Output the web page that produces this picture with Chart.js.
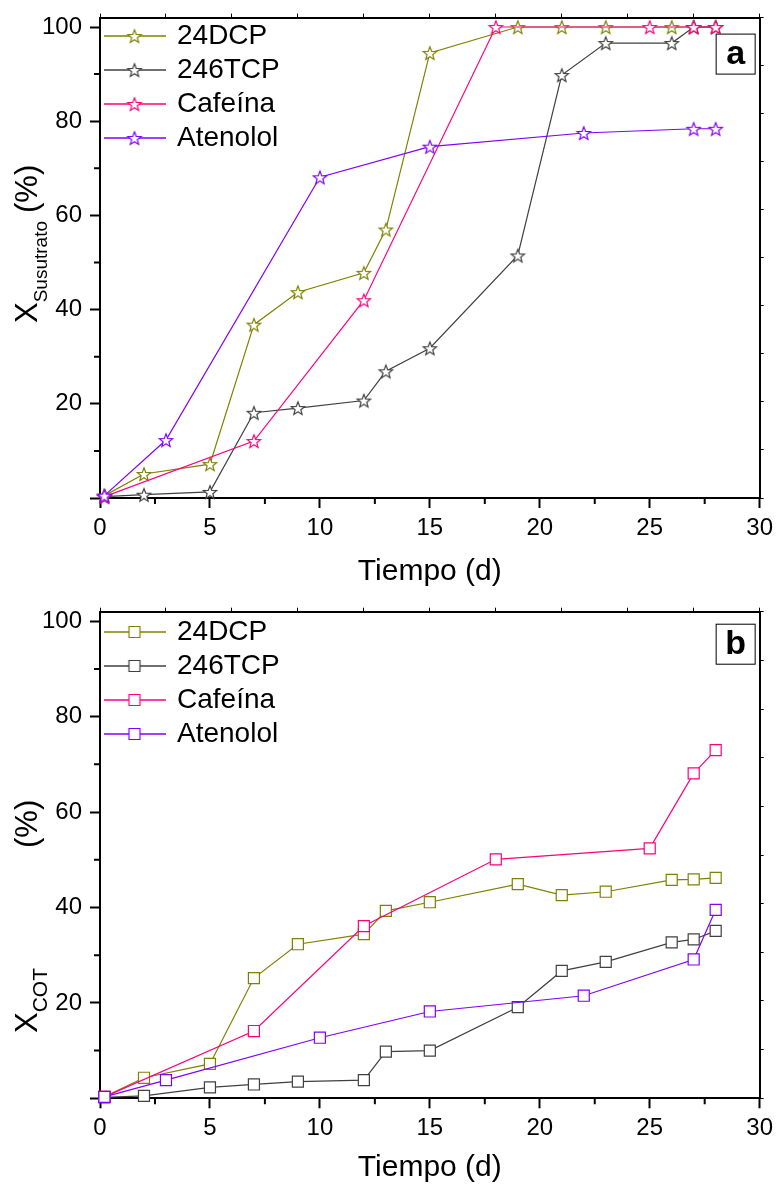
<!DOCTYPE html>
<html>
<head>
<meta charset="utf-8">
<script src="https://cdn.jsdelivr.net/npm/chart.js@4.4.1/dist/chart.umd.min.js"></script>
<style>
  body { margin: 0; background: #fff; }
  canvas { position: absolute; left: 0; }
</style>
</head>
<body>
<canvas id="chartA" width="779" height="590" style="top:0"></canvas>
<canvas id="chartB" width="779" height="596" style="top:590px"></canvas>
<script>
const seriesNames = ['24DCP', '246TCP', 'Cafeína', 'Atenolol'];
const seriesColors = ['#808000', '#404040', '#ff0080', '#8000ff'];

// (a) conversion of substrate, %
const dias24DCP = [0.2, 2, 5, 7, 9, 12, 13, 15, 19, 21, 23, 26, 27, 28];
const dias246TCP = [0.2, 2, 5, 7, 9, 12, 13, 15, 19, 21, 23, 26, 27, 28];
const diasCafeina = [0.2, 7, 12, 18, 25, 27, 28];
const diasAtenolol = [0.2, 3, 10, 15, 22, 27, 28];

const sust24DCP = [0.5, 5.1, 7.2, 36.8, 43.7, 47.8, 57.0, 94.5, 100, 100, 100, 100, 100, 100];
const sust246TCP = [0.3, 0.7, 1.3, 18.1, 19.1, 20.7, 26.9, 31.8, 51.5, 89.8, 96.6, 96.6, 100, 100];
const sustCafeina = [0.3, 12.1, 42.0, 100, 100, 100, 100];
const sustAtenolol = [0.5, 12.3, 68.1, 74.6, 77.5, 78.4, 78.4];

// (b) TOC removal, %
const cot24DCP = [0.3, 4.3, 7.2, 25.2, 32.3, 34.4, 39.3, 41.1, 44.9, 42.6, 43.3, 45.8, 45.9, 46.2];
const cot246TCP = [0.2, 0.5, 2.3, 2.9, 3.5, 3.8, 9.8, 10.0, 19.1, 26.7, 28.6, 32.7, 33.3, 35.1];
const cotCafeina = [0.3, 14.1, 36.1, 50.1, 52.4, 68.1, 73.0];
const cotAtenolol = [0.3, 3.8, 12.7, 18.2, 21.5, 29.1, 39.5];

const xTicks = [0, 5, 10, 15, 20, 25, 30];
const yTickLabels = [20, 40, 60, 80, 100];

const FONT = 'Arial, "Liberation Sans", sans-serif';
Chart.defaults.font.family = FONT;
Chart.defaults.color = '#000';

function makeIcon(shape, color, lineLen) {
  const w = lineLen || 18, h = 18;
  const c = document.createElement('canvas');
  c.width = w; c.height = h;
  const g = c.getContext('2d');
  const cx = w / 2, cy = h / 2;
  if (lineLen) {
    g.strokeStyle = color; g.lineWidth = 1.6;
    g.beginPath(); g.moveTo(0, cy); g.lineTo(w, cy); g.stroke();
  }
  g.beginPath();
  if (shape === 'star') {
    const r = 7, ri = 3;
    for (let i = 0; i < 10; i++) {
      const a = -Math.PI / 2 + i * Math.PI / 5;
      const rr = i % 2 ? ri : r;
      g.lineTo(cx + rr * Math.cos(a), cy + 0.8 + rr * Math.sin(a));
    }
    g.closePath();
  } else {
    g.rect(cx - 5.5, cy - 5.5, 11, 11);
  }
  g.fillStyle = '#fff'; g.fill();
  g.strokeStyle = color; g.lineWidth = 1.2; g.stroke();
  return c;
}

function buildDatasets(daysList, valuesList, shape) {
  return seriesNames.map((name, i) => ({
    label: name,
    data: daysList[i].map((d, k) => ({x: d, y: valuesList[i][k]})),
    borderColor: seriesColors[i],
    backgroundColor: '#fff',
    borderWidth: 1.2,
    tension: 0,
    pointStyle: shape === 'star' ? makeIcon('star', seriesColors[i]) : 'rect',
    pointRadius: 7.8,
    pointBorderWidth: 1.2,
    pointBackgroundColor: '#fff',
    pointBorderColor: seriesColors[i],
    order: seriesNames.length - i,
    clip: false
  }));
}

const minorTicks = {
  id: 'minorTicks',
  afterDraw(chart) {
    const {ctx, scales: {x, y}} = chart;
    ctx.save();
    ctx.strokeStyle = '#000';
    ctx.lineWidth = 2;
    ctx.beginPath();
    for (let v = 2.5; v < 30; v += 5) {
      const px = x.getPixelForValue(v);
      ctx.moveTo(px, x.top); ctx.lineTo(px, x.top + 6);
    }
    for (let v = 10; v < 100; v += 20) {
      const py = y.getPixelForValue(v);
      ctx.moveTo(y.right, py); ctx.lineTo(y.right - 6, py);
    }
    ctx.stroke();
    ctx.restore();
  }
};

const panelDecor = {
  id: 'panelDecor',
  afterDraw(chart, args, opts) {
    const {ctx, chartArea} = chart;
    ctx.save();
    // panel letter
    const bx = chartArea.right - 44, by = chartArea.top + opts.boxTop;
    ctx.fillStyle = '#fff';
    ctx.fillRect(bx, by, 39, 40);
    ctx.strokeStyle = '#000'; ctx.lineWidth = 1;
    ctx.strokeRect(bx + 0.5, by + 0.5, 39, 40);
    ctx.fillStyle = '#000';
    ctx.font = 'bold 34px ' + FONT;
    ctx.textAlign = 'center'; ctx.textBaseline = 'middle';
    ctx.fillText(opts.letter, bx + 20, by + 21);
    // y title with subscript
    ctx.translate(opts.titleX, opts.titleY);
    ctx.rotate(-Math.PI / 2);
    ctx.textAlign = 'left'; ctx.textBaseline = 'alphabetic';
    let pos = 0;
    ctx.font = '31px ' + FONT;
    ctx.fillText('X', pos, 0);
    pos += ctx.measureText('X').width;
    ctx.font = opts.subSize + 'px ' + FONT;
    ctx.fillText(opts.sub, pos, 10);
    pos += ctx.measureText(opts.sub).width + opts.gap;
    ctx.font = '31px ' + FONT;
    ctx.fillText('(%)', pos, 0);
    ctx.restore();
  }
};

function makeOptions(bottomHeight, topPad, decor) {
  return {
    responsive: false,
    animation: false,
    layout: {padding: {top: topPad, right: 12, left: 0, bottom: 0}},
    scales: {
      x: {
        type: 'linear', position: 'bottom', min: 0, max: 30,
        afterBuildTicks: s => { s.ticks = xTicks.map(v => ({value: v})); },
        afterFit: s => { s.height = bottomHeight; },
        grid: {drawOnChartArea: false, tickLength: 10, tickWidth: 2, tickColor: '#000'},
        border: {display: true, color: '#000', width: 2},
        ticks: {font: {size: 24}, padding: 6, maxRotation: 0},
        title: {display: true, text: 'Tiempo (d)', font: {size: 30}, padding: {top: 0, bottom: 0}}
      },
      y: {
        type: 'linear', position: 'left', min: 0, max: 102,
        afterBuildTicks: s => { s.ticks = [0].concat(yTickLabels).map(v => ({value: v})); },
        afterFit: s => { s.width = 100; },
        grid: {drawOnChartArea: false, tickLength: 10, tickWidth: 2, tickColor: '#000'},
        border: {display: true, color: '#000', width: 2},
        ticks: {font: {size: 24, lineHeight: 0.8}, padding: 8,
          callback: v => (yTickLabels.includes(v) ? v : '')}
      },
      xTop: {
        type: 'linear', position: 'top', min: 0, max: 30,
        ticks: {display: false, stepSize: 3, includeBounds: false},
        afterFit: s => { s.height = 4; },
        grid: {drawOnChartArea: false, tickLength: 4, tickWidth: 1, tickColor: '#000'},
        border: {display: true, color: '#000', width: 2}
      },
      yRight: {
        type: 'linear', position: 'right', min: 0, max: 100,
        ticks: {display: false, stepSize: 10, includeBounds: false},
        afterFit: s => { s.width = 4; },
        grid: {drawOnChartArea: false, tickLength: 4, tickWidth: 1, tickColor: '#000'},
        border: {display: true, color: '#000', width: 2}
      }
    },
    plugins: {
      tooltip: {enabled: false},
      panelDecor: decor,
      legend: {
        position: 'chartArea',
        align: 'start',
        title: {display: true, text: '', font: {size: 1}, padding: {top: decor.legendTop, bottom: 0}},
        labels: {
          usePointStyle: true,
          pointStyleWidth: 57,
          padding: 6,
          font: {size: 28},
          color: '#000',
          sort: (a, b) => a.datasetIndex - b.datasetIndex,
          generateLabels: chart => Chart.defaults.plugins.legend.labels.generateLabels(chart)
            .map(l => ({...l, pointStyle: makeIcon(decor.shape, seriesColors[l.datasetIndex], 62)}))
        }
      }
    }
  };
}

new Chart(document.getElementById('chartA'), {
  type: 'line',
  data: {datasets: buildDatasets([dias24DCP, dias246TCP, diasCafeina, diasAtenolol],
    [sust24DCP, sust246TCP, sustCafeina, sustAtenolol], 'star')},
  options: makeOptions(92, 12, {letter: 'a', boxTop: 16, shape: 'star', sub: 'Susutrato', subSize: 19,
    gap: 8, titleX: 37, titleY: 323, legendTop: 14.8}),
  plugins: [minorTicks, panelDecor]
});

new Chart(document.getElementById('chartB'), {
  type: 'line',
  data: {datasets: buildDatasets([dias24DCP, dias246TCP, diasCafeina, diasAtenolol],
    [cot24DCP, cot246TCP, cotCafeina, cotAtenolol], 'rect')},
  options: makeOptions(87.7, 17.7, {letter: 'b', boxTop: 12, shape: 'rect', sub: 'COT', subSize: 21,
    gap: 120, titleX: 37, titleY: 443, legendTop: 20.8}),
  plugins: [minorTicks, panelDecor]
});
</script>
</body>
</html>
